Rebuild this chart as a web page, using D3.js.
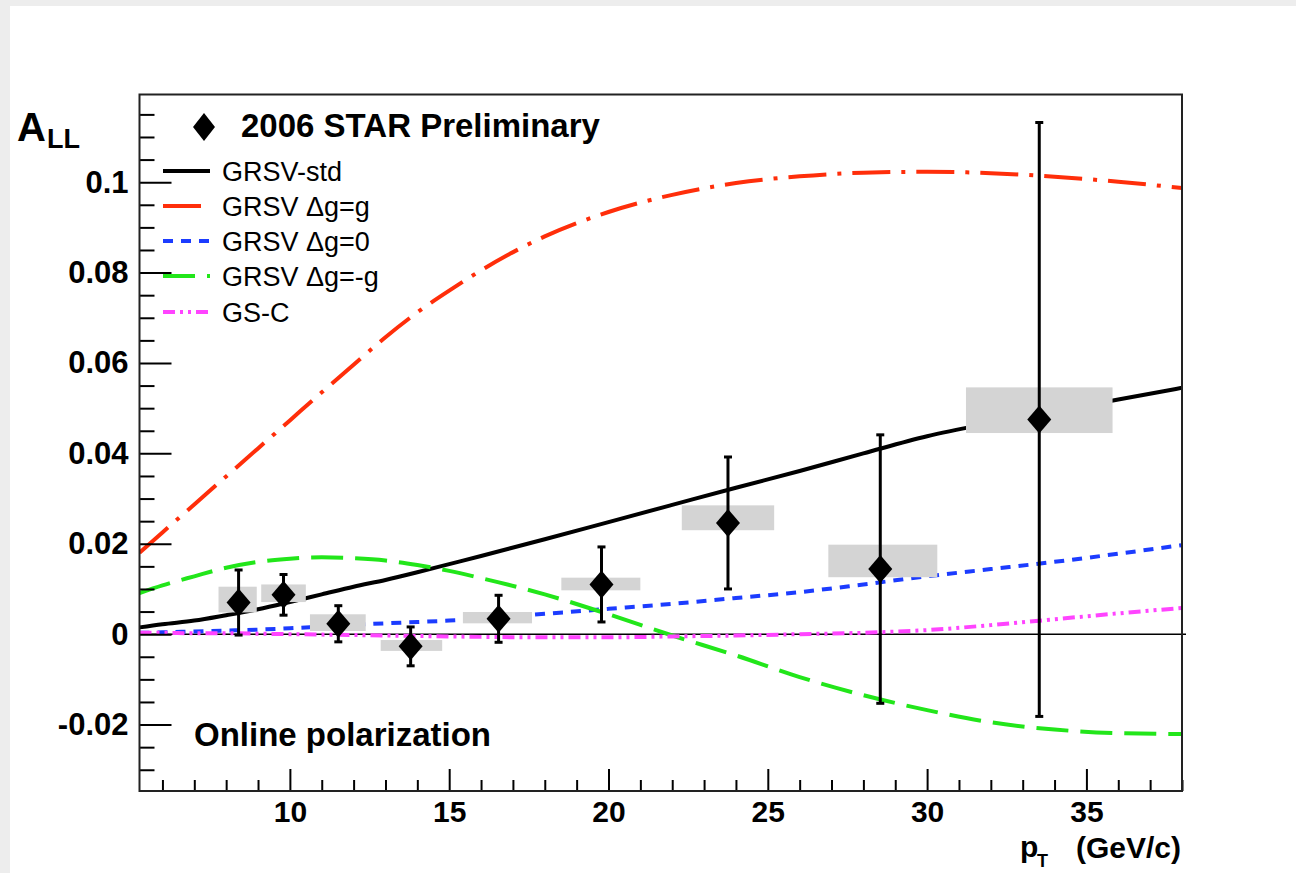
<!DOCTYPE html>
<html><head><meta charset="utf-8">
<script src="https://cdn.jsdelivr.net/npm/d3@7"></script>
<style>
body{margin:0;background:#fff;}
svg{display:block;font-family:"Liberation Sans",Arial,Helvetica,sans-serif;}
</style>
</head><body>
<svg id="c" width="1296" height="873"></svg>
<script>
// ---------- data ----------
const curvePt    = [5.28, 6, 7, 8, 9, 10, 11, 12, 13, 14, 15, 16, 18, 20, 22, 24, 26, 28, 30, 32, 34, 36, 38];
const grsvStd    = [0.0015,0.0022,0.0030,0.0042,0.0055,0.0071,0.0088,0.0105,0.0120,0.0137,0.0155,0.0173,0.0210,0.0248,0.0286,0.0324,0.0361,0.0400,0.0438,0.0467,0.0493,0.0519,0.0545];
const grsvG      = [0.0180,0.0225,0.0287,0.0349,0.0411,0.0473,0.0535,0.0596,0.0657,0.0712,0.0760,0.0805,0.0880,0.0934,0.0972,0.0998,0.1013,0.1021,0.1023,0.1020,0.1012,0.1001,0.0987];
const grsv0      = [0.0003,0.0004,0.0006,0.0008,0.0010,0.0013,0.0017,0.0021,0.0024,0.0027,0.0030,0.0034,0.0045,0.0056,0.0067,0.0080,0.0093,0.0110,0.0128,0.0144,0.0160,0.0178,0.0197];
const grsvMinusG = [0.0091,0.0108,0.0128,0.0147,0.0160,0.0167,0.0170,0.0168,0.0163,0.0153,0.0140,0.0124,0.0088,0.0044,-0.0003,-0.0047,-0.0095,-0.0135,-0.0168,-0.0195,-0.0211,-0.0219,-0.0221];
const gsC        = [0.0003,0.0003,0.0002,0.0002,0.0001,0.0000,-0.0001,-0.0002,-0.0003,-0.0004,-0.0005,-0.0006,-0.0007,-0.0007,-0.0005,-0.0003,0.0000,0.0003,0.0009,0.0020,0.0033,0.0046,0.0058];

const pointPt  = [8.39, 9.80, 11.52, 13.79, 16.55, 19.78, 23.75, 28.53, 33.52];
const pointAll = [0.0070, 0.0087, 0.0023, -0.0027, 0.0034, 0.0110, 0.0246, 0.0144, 0.0475];
const pointErr = [0.0072, 0.0045, 0.0040, 0.0043, 0.0052, 0.0083, 0.0146, 0.0297, 0.0657];
const sysPtLo  = [7.76, 9.10, 10.63, 12.85, 15.43, 18.52, 22.30, 26.90, 31.22];
const sysPtHi  = [8.96, 10.50, 12.38, 14.78, 17.60, 21.00, 25.20, 30.32, 35.82];
const sysLo    = [0.0048, 0.0071, 0.0007, -0.0037, 0.0024, 0.0097, 0.0230, 0.0126, 0.0445];
const sysHi    = [0.0105, 0.0110, 0.0044, -0.0013, 0.0049, 0.0125, 0.0285, 0.0198, 0.0546];

const xTickValues = [10, 15, 20, 25, 30, 35];
const xTickLabels = ["10", "15", "20", "25", "30", "35"];
const yTickValues = [-0.02, 0, 0.02, 0.04, 0.06, 0.08, 0.1];
const yTickLabels = ["-0.02", "0", "0.02", "0.04", "0.06", "0.08", "0.1"];

const seriesNames = ["GRSV-std", "GRSV \u0394g=g", "GRSV \u0394g=0", "GRSV \u0394g=-g", "GS-C"];
const seriesData  = [grsvStd, grsvG, grsv0, grsvMinusG, gsC];

// ---------- styles ----------
const seriesColor = ["#000000", "#ff2e0a", "#1c3cff", "#22e61a", "#ff44ff"];
const seriesDash  = [null, "38,11,4,11", "10,8", "32,12", "12,5,3,5,3,5"];

// ---------- layout ----------
const W = 1296, H = 873;
const L = 139.5, R = 1182, T = 94.5, B = 791;
const svg = d3.select("#c");
svg.append("rect").attr("width", W).attr("height", H).attr("fill", "#ededed");
svg.append("rect").attr("x", 10).attr("y", 6).attr("width", W - 10).attr("height", H - 6).attr("fill", "#ffffff");

const x = d3.scaleLinear().domain([5.28, 38]).range([L, R]);
const y = d3.scaleLinear().domain([-0.0347, 0.1194]).range([B, T]);

svg.append("defs").append("clipPath").attr("id", "clip")
  .append("rect").attr("x", L).attr("y", T).attr("width", R - L).attr("height", B - T);

// zero line
svg.append("line").attr("x1", L).attr("x2", R + 4).attr("y1", y(0)).attr("y2", y(0))
  .attr("stroke", "#000").attr("stroke-width", 1.5);

// curves
const line = d3.line().x(d => x(d[0])).y(d => y(d[1])).curve(d3.curveMonotoneX);
const gCurves = svg.append("g").attr("clip-path", "url(#clip)");
seriesData.forEach((vals, i) => {
  gCurves.append("path")
    .datum(curvePt.map((p, k) => [p, vals[k]]))
    .attr("d", line)
    .attr("fill", "none")
    .attr("stroke", seriesColor[i])
    .attr("stroke-width", 4)
    .attr("stroke-dasharray", seriesDash[i]);
});

// systematic boxes
svg.append("g").selectAll("rect").data(pointPt).join("rect")
  .attr("x", (d, i) => x(sysPtLo[i]))
  .attr("width", (d, i) => x(sysPtHi[i]) - x(sysPtLo[i]))
  .attr("y", (d, i) => y(sysHi[i]))
  .attr("height", (d, i) => y(sysLo[i]) - y(sysHi[i]))
  .attr("fill", "#d4d4d4");

// error bars
const gErr = svg.append("g").attr("stroke", "#000").attr("stroke-width", 3);
pointPt.forEach((p, i) => {
  const cx = x(p), top = y(pointAll[i] + pointErr[i]), bot = y(pointAll[i] - pointErr[i]);
  gErr.append("line").attr("x1", cx).attr("x2", cx).attr("y1", top).attr("y2", bot);
  gErr.append("line").attr("x1", cx - 4).attr("x2", cx + 4).attr("y1", top).attr("y2", top);
  gErr.append("line").attr("x1", cx - 4).attr("x2", cx + 4).attr("y1", bot).attr("y2", bot);
});

// markers
const diamond = "M0,-14L12,0L0,14L-12,0Z";
svg.append("g").selectAll("path").data(pointPt).join("path")
  .attr("d", diamond)
  .attr("transform", (d, i) => `translate(${x(d)},${y(pointAll[i])})`)
  .attr("fill", "#000");

// axes
function styleAxis(size) {
  return g => {
    g.select(".domain").remove();
    g.selectAll(".tick line").attr("stroke", "#000").attr("stroke-width", 2);
    g.selectAll("text").attr("font-family", "'Liberation Sans',Arial,sans-serif")
      .attr("font-weight", "bold").attr("font-size", size).attr("fill", "#000");
  };
}
const yMinor = d3.range(-0.03, 0.1151, 0.005).map(v => +v.toFixed(3)).filter(v => !yTickValues.some(t => Math.abs(t - v) < 1e-6));
svg.append("g").attr("transform", `translate(${L},0)`)
  .call(d3.axisLeft(y).tickValues(yMinor).tickSize(-15).tickFormat(""))
  .call(styleAxis(31));
svg.append("g").attr("transform", `translate(${L},0)`)
  .call(d3.axisLeft(y).tickValues(yTickValues).tickSize(-32).tickPadding(11)
    .tickFormat((d, i) => yTickLabels[i]))
  .call(styleAxis(31));

const xMinor = d3.range(6, 38.01, 1).filter(v => !xTickValues.includes(v));
svg.append("g").attr("transform", `translate(0,${B})`)
  .call(d3.axisBottom(x).tickValues(xMinor).tickSize(-11).tickFormat(""))
  .call(styleAxis(30));
svg.append("g").attr("transform", `translate(0,${B})`)
  .call(d3.axisBottom(x).tickValues(xTickValues).tickSize(-22).tickPadding(10)
    .tickFormat((d, i) => xTickLabels[i]))
  .call(styleAxis(30));

// frame
svg.append("rect").attr("x", L).attr("y", T).attr("width", R - L).attr("height", B - T)
  .attr("fill", "none").attr("stroke", "#222").attr("stroke-width", 2);

// axis titles
svg.append("text").attr("x", 17).attr("y", 141).attr("font-weight", "bold").attr("font-size", 40).text("A");
svg.append("text").attr("x", 47).attr("y", 148).attr("font-weight", "bold").attr("font-size", 27).text("LL");
svg.append("text").attr("x", 1020).attr("y", 857).attr("font-weight", "bold").attr("font-size", 30).text("p");
svg.append("text").attr("x", 1037).attr("y", 867).attr("font-weight", "bold").attr("font-size", 18).text("T");
svg.append("text").attr("x", 1181).attr("y", 858).attr("text-anchor", "end").attr("font-weight", "bold").attr("font-size", 30).text("(GeV/c)");

// legend
svg.append("path").attr("d", "M0,-14L11,0L0,14L-11,0Z").attr("transform", "translate(204,127)").attr("fill", "#000");
svg.append("text").attr("x", 241).attr("y", 137).attr("font-weight", "bold").attr("font-size", 33).text("2006 STAR Preliminary");
const legY = [171, 206, 241, 276, 312];
seriesNames.forEach((n, i) => {
  svg.append("line").attr("x1", 163).attr("x2", 210).attr("y1", legY[i]).attr("y2", legY[i])
    .attr("stroke", seriesColor[i]).attr("stroke-width", 4).attr("stroke-dasharray", seriesDash[i]);
  svg.append("text").attr("x", 222).attr("y", legY[i] + 9.5).attr("font-size", 27).attr("fill", "#000").text(n);
});

svg.append("text").attr("x", 194).attr("y", 746).attr("font-weight", "bold").attr("font-size", 33).text("Online polarization");
</script>
</body></html>
